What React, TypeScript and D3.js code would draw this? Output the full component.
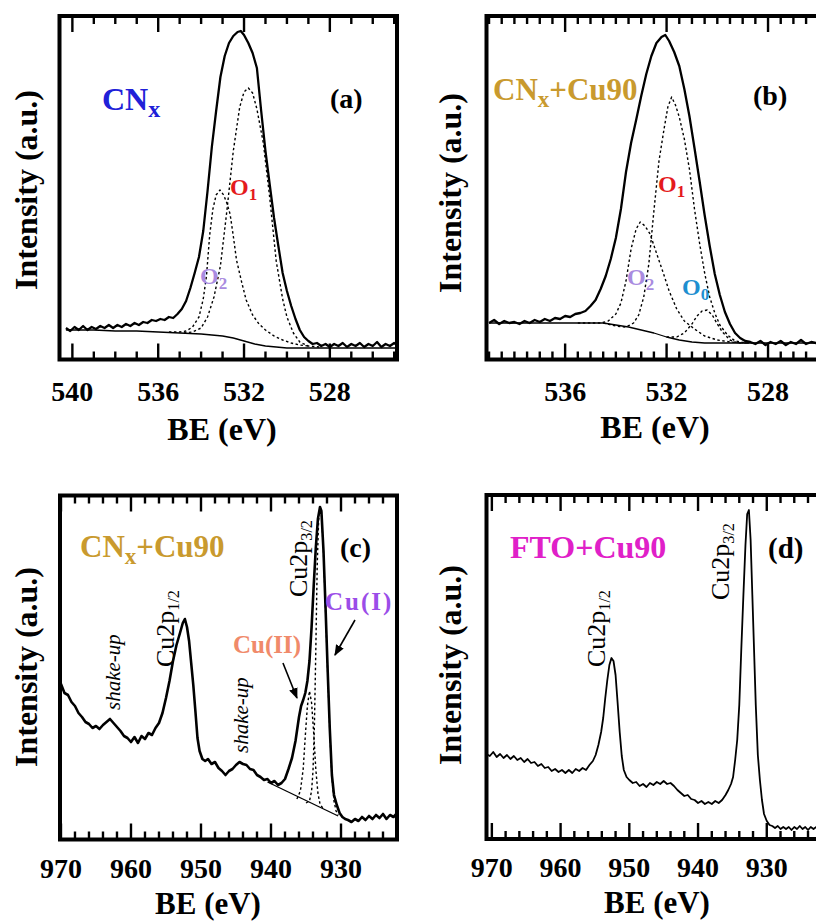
import React from 'react';
import * as d3 from 'd3';

type Pt = [number, number];

// ---------- Panel (a): O1s of CNx ----------
const A_TICKS = [540, 536, 532, 528];
const A_ENV: Pt[] = [[540.3,33],[540.1,30],[539.9,34],[539.7,31],[539.5,35],[539.3,31],[539.1,34],[538.9,32],[538.7,35],[538.5,33],[538.3,36],[538.1,33],[537.9,36],[537.7,34],[537.5,37],[537.3,35],[537.1,38],[536.9,36],[536.7,39],[536.5,38],[536.3,41],[536.1,40],[535.9,42],[535.7,41],[535.5,44],[535.3,43],[535.1,47],[534.9,52],[534.7,60],[534.5,73],[534.3,88],[534.1,104],[533.9,130],[533.7,170],[533.5,214],[533.3,250],[533.1,284],[532.9,305],[532.7,318],[532.5,325],[532.3,329],[532.15,330],[532.0,326],[531.8,318],[531.6,308],[531.4,293],[531.2,250],[531.0,210],[530.8,176],[530.6,143],[530.4,115],[530.2,88],[530.0,70],[529.8,55],[529.6,42],[529.4,31],[529.2,24],[529.0,20],[528.8,17],[528.6,18],[528.4,15],[528.2,17],[528.0,14],[527.8,17],[527.6,15],[527.4,18],[527.2,14],[527.0,17],[526.8,15],[526.6,18],[526.4,14],[526.2,17],[526.0,15],[525.8,19],[525.6,14],[525.4,17],[525.2,15],[525.0,18],[524.9,16]];
const A_O1: Pt[] = [[534.8,28],[534.4,29],[534.0,33],[533.7,44],[533.4,64],[533.1,95],[532.8,150],[532.5,210],[532.2,254],[532.0,269],[531.8,273],[531.6,268],[531.4,252],[531.1,218],[530.8,163],[530.5,100],[530.2,62],[530.0,44],[529.7,28],[529.4,19],[529.0,15],[528.5,14]];
const A_O2: Pt[] = [[535.5,29],[535.0,29],[534.7,30],[534.4,34],[534.1,44],[533.9,62],[533.75,85],[533.6,126],[533.45,152],[533.3,166],[533.12,171],[532.95,166],[532.8,158],[532.65,147],[532.5,125],[532.35,101],[532.1,78],[531.9,61],[531.6,46],[531.3,37],[531.0,31],[530.6,25],[530.2,21],[529.8,18],[529.4,16],[529.0,15]];
const A_BG: Pt[] = [[540.3,31],[539,31],[538,30],[537,30],[536,29],[535,28],[534,27],[533.5,26],[533,25],[532.5,23],[532,20],[531.5,17],[531,15],[530.5,14],[530,13],[529,13],[528,13],[527,13],[526,13],[524.9,13]];

// ---------- Panel (b): O1s of CNx+Cu90 ----------
const B_TICKS = [536, 532, 528];
const B_ENV: Pt[] = [[539.0,38],[538.8,41],[538.6,37],[538.4,40],[538.2,38],[538.0,39],[537.8,37],[537.6,40],[537.4,38],[537.2,41],[537.0,39],[536.8,42],[536.6,40],[536.4,43],[536.2,42],[536.0,45],[535.8,44],[535.6,47],[535.4,48],[535.2,50],[535.0,55],[534.8,61],[534.6,72],[534.4,85],[534.2,102],[534.0,123],[533.8,152],[533.6,189],[533.4,218],[533.2,241],[533.0,265],[532.8,287],[532.6,305],[532.4,318],[532.2,324],[532.05,326],[531.9,320],[531.7,309],[531.5,295],[531.3,272],[531.1,245],[530.9,213],[530.7,180],[530.5,146],[530.3,115],[530.1,87],[529.9,66],[529.7,49],[529.5,37],[529.3,28],[529.1,23],[528.9,20],[528.7,19],[528.5,17],[528.3,20],[528.1,16],[527.9,19],[527.7,17],[527.5,20],[527.3,16],[527.1,19],[526.9,17],[526.7,21],[526.5,17],[526.3,19],[526.1,18]];
const B_O1: Pt[] = [[534.5,38],[534.0,35],[533.6,34],[533.3,38],[533.1,46],[532.9,64],[532.7,97],[532.5,150],[532.3,200],[532.1,232],[531.95,254],[531.8,264],[531.65,256],[531.5,244],[531.3,222],[531.1,192],[530.9,152],[530.7,118],[530.5,88],[530.3,64],[530.1,48],[529.9,36],[529.6,26],[529.3,20],[528.9,18],[528.5,18]];
const B_O2: Pt[] = [[535.5,38],[535.0,38],[534.6,38],[534.3,40],[534.0,47],[533.8,58],[533.6,80],[533.4,112],[533.2,132],[533.04,139],[532.85,135],[532.65,127],[532.4,108],[532.13,88],[531.9,70],[531.6,52],[531.3,40],[530.9,32],[530.5,25],[530.0,21],[529.5,19],[529.0,18]];
const B_O0: Pt[] = [[532.0,24],[531.6,24],[531.3,28],[531.0,37],[530.8,45],[530.6,50],[530.4,51],[530.2,46],[530.0,37],[529.8,29],[529.5,21],[529.2,18],[528.8,18]];
const B_BG: Pt[] = [[539.0,38],[538,38],[537,38],[536,38],[535,38],[534.5,38],[534,36],[533.5,34],[533,31],[532.5,28],[532,24],[531.5,21],[531,19],[530.5,18],[530,18],[529,18],[528,18],[527,18],[526.1,18]];

// ---------- Panel (c): Cu2p of CNx+Cu90 ----------
const CD_TICKS = [970, 960, 950, 940, 930];
const C_ENV: Pt[] = [[970.3,152],[970.0,157],[969.5,148],[969.0,146],[968.5,139],[968.0,135],[967.5,128],[967.0,124],[966.5,119],[966.0,117],[965.5,113],[965.0,115],[964.5,112],[964.0,116],[963.5,119],[963.0,122],[962.5,118],[962.0,114],[961.5,110],[961.0,105],[960.5,103],[960.0,99],[959.5,104],[959.0,98],[958.5,105],[958.0,102],[957.5,108],[957.0,106],[956.5,113],[956.0,118],[955.5,128],[955.0,143],[954.5,160],[954.0,180],[953.5,196],[953.0,208],[952.6,218],[952.3,222],[952.0,214],[951.7,200],[951.4,178],[951.1,156],[950.8,130],[950.5,103],[950.2,90],[949.8,82],[949.4,80],[949.0,82],[948.5,77],[948.0,79],[947.5,73],[947.0,70],[946.5,66],[946.0,70],[945.5,72],[945.0,76],[944.5,79],[944.0,77],[943.5,76],[943.0,72],[942.5,71],[942.0,66],[941.5,64],[941.0,61],[940.5,62],[940.0,58],[939.5,60],[939.0,56],[938.5,58],[938.0,62],[937.5,72],[937.0,83],[936.5,100],[936.0,124],[935.7,135],[935.4,141],[935.1,148],[934.8,160],[934.5,180],[934.2,214],[933.9,255],[933.6,293],[933.3,322],[933.0,334],[932.8,330],[932.5,290],[932.2,232],[931.9,170],[931.6,112],[931.3,66],[931.0,46],[930.6,36],[930.2,28],[929.8,24],[929.4,22],[929.0,21],[928.5,19],[928.0,22],[927.5,20],[927.0,24],[926.5,21],[926.0,25],[925.5,22],[925.0,26],[924.5,23],[924.0,27],[923.5,22],[923.0,26],[922.5,24],[922.1,27]];
const C_CU2: Pt[] = [[936.3,42],[935.8,50],[935.4,72],[935.1,105],[934.8,135],[934.5,150],[934.2,138],[933.9,108],[933.6,72],[933.3,48],[933.0,37],[932.6,33]];
const C_CU1: Pt[] = [[935.0,38],[934.5,40],[934.2,50],[934.0,70],[933.8,115],[933.6,190],[933.4,275],[933.2,320],[933.0,333],[932.8,329],[932.5,288],[932.2,230],[931.9,168],[931.6,110],[931.3,64],[931.0,40],[930.7,30],[930.4,26]];
const C_BG: Pt[] = [[940.5,59],[930.4,25]];

// ---------- Panel (d): Cu2p of FTO+Cu90 ----------
const D_ENV: Pt[] = [[970.8,86],[970.3,84],[969.8,88],[969.3,83],[968.8,86],[968.3,82],[967.8,85],[967.3,81],[966.8,84],[966.3,80],[965.8,82],[965.3,78],[964.8,81],[964.3,77],[963.8,78],[963.3,74],[962.8,76],[962.3,72],[961.8,73],[961.3,69],[960.8,71],[960.3,68],[959.8,70],[959.3,67],[958.8,70],[958.3,67],[957.8,71],[957.3,69],[956.8,72],[956.3,70],[955.8,75],[955.3,79],[954.9,85],[954.5,95],[954.1,108],[953.8,122],[953.5,142],[953.2,160],[952.9,175],[952.6,182],[952.3,179],[952.0,165],[951.7,137],[951.4,108],[951.1,84],[950.8,70],[950.4,63],[950.0,60],[949.5,57],[949.0,58],[948.5,54],[948.0,56],[947.5,53],[947.0,57],[946.5,55],[946.0,58],[945.5,56],[945.0,59],[944.5,56],[944.0,57],[943.5,54],[943.0,50],[942.5,47],[942.0,44],[941.5,45],[941.0,41],[940.5,40],[940.0,37],[939.5,39],[939.0,36],[938.5,38],[938.0,36],[937.5,39],[937.0,37],[936.5,40],[936.0,45],[935.6,50],[935.2,56],[934.9,63],[934.6,80],[934.3,100],[934.0,135],[933.7,192],[933.4,245],[933.1,295],[932.85,326],[932.6,330],[932.35,300],[932.1,245],[931.85,190],[931.6,135],[931.3,85],[931.0,60],[930.7,40],[930.4,26],[930.0,19],[929.6,15],[929.2,14],[928.8,12],[928.4,14],[928.0,11],[927.6,13],[927.2,11],[926.8,13],[926.4,10],[926.0,13],[925.6,11],[925.2,14],[924.8,11],[924.4,13],[924.0,10],[923.6,13],[923.2,11],[922.8,13],[922.5,12]];

const FONT = "'Liberation Serif', 'Times New Roman', serif";

interface Curve { data: Pt[]; dash?: string; w: number; }
interface Spec {
  id: string;
  left: number; right: number; top: number; bottom: number;
  eLeft: number; eRight: number;
  yRef: number; // pixel of zero intensity
  majors: number[]; minorStep: number;
  tickLabelY: number; titleX: number; titleY: number; titleSize: number;
  yLabelX: number; yLabelY: number;
  curves: Curve[];
}

function Panel({ s, children }: { s: Spec; children?: (x: any, y: any) => React.ReactNode }) {
  const x = d3.scaleLinear().domain([s.eLeft, s.eRight]).range([s.left, s.right]);
  const y = d3.scaleLinear().domain([0, 350]).range([s.yRef, s.yRef - 350]);
  const line = d3.line<Pt>().x(d => x(d[0])).y(d => y(d[1]));
  const lo = Math.min(s.eLeft, s.eRight), hi = Math.max(s.eLeft, s.eRight);
  const minors = d3.range(Math.ceil(lo / s.minorStep) * s.minorStep, hi, s.minorStep)
    .filter(v => !s.majors.some(m => Math.abs(m - v) < 1e-6));
  const allMajors = s.majors.filter(v => v > lo && v < hi);
  const tk = (v: number, len: number, key: string) => (
    <g key={key}>
      <line x1={x(v)} x2={x(v)} y1={s.top} y2={s.top + len} stroke="#000" strokeWidth={2.4} />
      <line x1={x(v)} x2={x(v)} y1={s.bottom} y2={s.bottom - len} stroke="#000" strokeWidth={2.4} />
    </g>
  );
  return (
    <g>
      <defs>
        <clipPath id={`clip-${s.id}`}>
          <rect x={s.left} y={s.top} width={s.right - s.left} height={s.bottom - s.top} />
        </clipPath>
      </defs>
      <g clipPath={`url(#clip-${s.id})`}>
        {s.curves.map((c, i) => (
          <path key={i} d={line(c.data) || ''} fill="none" stroke="#000" strokeWidth={c.w}
            strokeDasharray={c.dash} strokeLinejoin="round" />
        ))}
      </g>
      {minors.map((v, i) => tk(v, 8, 'mi' + i))}
      {allMajors.map((v, i) => tk(v, 16, 'ma' + i))}
      <rect x={s.left} y={s.top} width={s.right - s.left} height={s.bottom - s.top}
        fill="none" stroke="#000" strokeWidth={4} />
      {allMajors.map((v, i) => (
        <text key={'l' + i} x={x(v)} y={s.tickLabelY} textAnchor="middle" fontFamily={FONT}
          fontWeight="bold" fontSize={28}>{v}</text>
      ))}
      <text x={s.titleX} y={s.titleY} textAnchor="middle" fontFamily={FONT} fontWeight="bold" fontSize={s.titleSize}>BE (eV)</text>
      <text transform={`translate(${s.yLabelX},${s.yLabelY}) rotate(-90)`} textAnchor="middle"
        fontFamily={FONT} fontWeight="bold" fontSize={32}>Intensity (a.u.)</text>
      {children ? children(x, y) : null}
    </g>
  );
}

const GOLD = '#C99A2E';

function CuLabel({ x, y, sub, size = 26 }: { x: number; y: number; sub: string; size?: number }) {
  return (
    <text transform={`translate(${x},${y}) rotate(-90)`} fontFamily={FONT} fontSize={size}>
      Cu2p<tspan fontSize={size * 0.62} dy={5}>{sub}</tspan>
    </text>
  );
}

export default function App() {
  const specA: Spec = {
    id: 'a', left: 59.5, right: 397, top: 16, bottom: 359.5,
    eLeft: 540.6, eRight: 524.87, yRef: 361,
    majors: A_TICKS, minorStep: 1,
    tickLabelY: 401, titleX: 222, titleY: 440, titleSize: 32, yLabelX: 37, yLabelY: 190,
    curves: [
      { data: A_BG, w: 1.3 },
      { data: A_O2, w: 1.4, dash: '2.5,2.5' },
      { data: A_O1, w: 1.4, dash: '2.5,2.5' },
      { data: A_ENV, w: 2.3 },
    ],
  };
  const specB: Spec = {
    id: 'b', left: 486.5, right: 870, top: 16, bottom: 359.5,
    eLeft: 539.1, eRight: 523.98, yRef: 361,
    majors: B_TICKS, minorStep: 0.5,
    tickLabelY: 401, titleX: 655, titleY: 438, titleSize: 32, yLabelX: 461, yLabelY: 193,
    curves: [
      { data: B_BG, w: 1.3 },
      { data: B_O2, w: 1.4, dash: '2.5,2.5' },
      { data: B_O0, w: 1.4, dash: '2.5,2.5' },
      { data: B_O1, w: 1.4, dash: '2.5,2.5' },
      { data: B_ENV, w: 2.3 },
    ],
  };
  const specC: Spec = {
    id: 'c', left: 60, right: 397, top: 495.5, bottom: 839.5,
    eLeft: 970.14, eRight: 922, yRef: 841,
    majors: CD_TICKS, minorStep: 2,
    tickLabelY: 878, titleX: 208, titleY: 914, titleSize: 31, yLabelX: 37, yLabelY: 667,
    curves: [
      { data: C_BG, w: 1.3 },
      { data: C_CU2, w: 1.4, dash: '2.5,2.5' },
      { data: C_CU1, w: 1.4, dash: '2.5,2.5' },
      { data: C_ENV, w: 2.6 },
    ],
  };
  const specD: Spec = {
    id: 'd', left: 486.5, right: 830, top: 495, bottom: 839,
    eLeft: 970.78, eRight: 920.8, yRef: 840,
    majors: CD_TICKS, minorStep: 2,
    tickLabelY: 877, titleX: 657, titleY: 913, titleSize: 31, yLabelX: 461, yLabelY: 665,
    curves: [
      { data: D_ENV, w: 1.8 },
    ],
  };

  return (
    <svg width={816} height={921} style={{ position: 'absolute', left: 0, top: 0, background: '#fff' }}
      xmlns="http://www.w3.org/2000/svg">
      <defs>
        <marker id="arrow" viewBox="0 0 10 10" refX={9} refY={5} markerWidth={11} markerHeight={11}
          markerUnits="userSpaceOnUse" orient="auto">
          <path d="M0,1 L10,5 L0,9 z" fill="#000" />
        </marker>
      </defs>
      <rect x={0} y={0} width={816} height={921} fill="#fff" />

      <Panel s={specA} />
      <text x={102} y={110} fontFamily={FONT} fontWeight="bold" fontSize={32} fill="#2020D8">
        CN<tspan fontSize={24} dy={7}>x</tspan>
      </text>
      <text x={330} y={108} fontFamily={FONT} fontWeight="bold" fontSize={28}>(a)</text>
      <text x={230} y={195} fontFamily={FONT} fontWeight="bold" fontSize={24} fill="#E41A1C">
        O<tspan fontSize={17} dy={5}>1</tspan>
      </text>
      <text x={200} y={284} fontFamily={FONT} fontWeight="bold" fontSize={24} fill="#A98BE0">
        O<tspan fontSize={17} dy={5}>2</tspan>
      </text>

      <Panel s={specB} />
      <text x={493} y={100} fontFamily={FONT} fontWeight="bold" fontSize={31} fill={GOLD}>
        CN<tspan fontSize={23} dy={7}>x</tspan><tspan dy={-7}>+Cu90</tspan>
      </text>
      <text x={753} y={105} fontFamily={FONT} fontWeight="bold" fontSize={28}>(b)</text>
      <text x={658} y={192} fontFamily={FONT} fontWeight="bold" fontSize={24} fill="#E41A1C">
        O<tspan fontSize={17} dy={5}>1</tspan>
      </text>
      <text x={627} y={285} fontFamily={FONT} fontWeight="bold" fontSize={24} fill="#A98BE0">
        O<tspan fontSize={17} dy={5}>2</tspan>
      </text>
      <text x={682} y={295} fontFamily={FONT} fontWeight="bold" fontSize={24} fill="#1E8FD0">
        O<tspan fontSize={17} dy={5}>0</tspan>
      </text>

      <Panel s={specC}>
        {(x, y) => (
          <g>
            <line x1={x(938.29)} y1={y(178)} x2={x(936.29)} y2={y(143)} stroke="#000" strokeWidth={1.6} markerEnd="url(#arrow)" />
            <line x1={x(928.0)} y1={y(221)} x2={x(930.86)} y2={y(186)} stroke="#000" strokeWidth={1.6} markerEnd="url(#arrow)" />
          </g>
        )}
      </Panel>
      <text x={80} y={557} fontFamily={FONT} fontWeight="bold" fontSize={31} fill={GOLD}>
        CN<tspan fontSize={23} dy={7}>x</tspan><tspan dy={-7}>+Cu90</tspan>
      </text>
      <text x={340} y={557} fontFamily={FONT} fontWeight="bold" fontSize={28}>(c)</text>
      <CuLabel x={307} y={597} sub="3/2" />
      <CuLabel x={174} y={667} sub="1/2" />
      <text transform="translate(120,710) rotate(-90)" fontFamily={FONT} fontStyle="italic" fontSize={21}>shake-up</text>
      <text transform="translate(248,753) rotate(-90)" fontFamily={FONT} fontStyle="italic" fontSize={21}>shake-up</text>
      <text x={233} y={653} fontFamily={FONT} fontWeight="bold" fontSize={25} fill="#F08A6A">Cu(II)</text>
      <text x={325} y={610} fontFamily={FONT} fontWeight="bold" fontSize={25} fill="#9B4DE8" letterSpacing={2}>Cu(I)</text>

      <Panel s={specD} />
      <text x={510} y={558} fontFamily={FONT} fontWeight="bold" fontSize={32} fill="#E020C8">FTO+Cu90</text>
      <text x={768} y={558} fontFamily={FONT} fontWeight="bold" fontSize={29}>(d)</text>
      <CuLabel x={729} y={600} sub="3/2" />
      <CuLabel x={605} y={667} sub="1/2" />
    </svg>
  );
}
